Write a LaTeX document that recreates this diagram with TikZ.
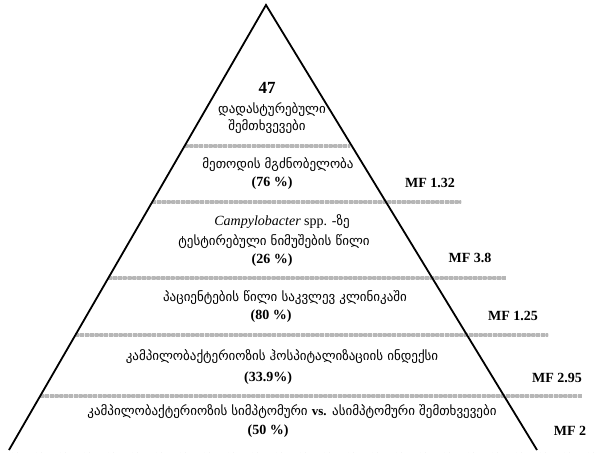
\documentclass[tikz,border=0pt]{standalone}
\usepackage{fontspec}
\setmainfont{Liberation Serif}
\newfontfamily\geofont{DejaVu Sans}
\usetikzlibrary{calc}

\tikzset{
  geo/.style={font=\geofont\fontsize{13}{15}\selectfont, inner sep=0pt},
  txt/.style={font=\fontsize{14}{16}\selectfont, inner sep=0pt},
  pct/.style={font=\bfseries\fontsize{14}{16}\selectfont, inner sep=0pt},
  mf/.style={font=\bfseries\fontsize{14}{16}\selectfont, inner sep=0pt},
  dline/.style={double, double distance=1.2pt, line width=0.8pt, draw=black!80,
    dash pattern=on 4pt off 0.8pt}
}

\begin{document}
\begin{tikzpicture}[x=1pt, y=1pt]
      \useasboundingbox (0, 0) rectangle (598, 456);

      \coordinate (apex) at (266, 451);
      \coordinate (baseL) at (9, 6);
      \coordinate (baseR) at (537, 6);

      \draw[dline] ($(apex)!{141/445}!(baseL)$) -- (350, 310);
      \draw[dline] ($(apex)!{197/445}!(baseL)$) -- (461, 254);
      \draw[dline] ($(apex)!{273/445}!(baseL)$) -- (506, 178);
      \draw[dline] ($(apex)!{330/445}!(baseL)$) -- (548, 121);
      \draw[dline] ($(apex)!{391/445}!(baseL)$) -- (582, 60);
      \draw[dline] (8, 3) -- (598, 3);

      \draw[line width=1.8pt, line join=miter] (baseL) -- (apex) -- (baseR);

      \node[pct, font=\bfseries\fontsize{17}{19}\selectfont] (cases) at (267, 368) {47};
      \node[geo] (conf1) at (272, 346) {დადასტურებული};
      \node[geo] (conf2) at (267, 329) {შემთხვევები};
      \node[geo] (sens1) at (278, 291) {მეთოდის მგძნობელობა};
      \node[pct] (sens2) at (272, 273) {(76 \%)};
      \node[txt] (camp1) at (282, 234) {\textit{Campylobacter} spp. -{\geofont\fontsize{13}{15}\selectfont ზე}};
      \node[geo] (camp2) at (274, 214) {ტესტირებული ნიმუშების წილი};
      \node[pct] (camp3) at (272, 196) {(26 \%)};
      \node[geo] (pat1) at (285, 158) {პაციენტების წილი საკვლევ კლინიკაში};
      \node[pct] (pat2) at (271, 140) {(80 \%)};
      \node[geo] (hosp1) at (282, 99) {კამპილობაქტერიოზის ჰოსპიტალიზაციის ინდექსი};
      \node[pct] (hosp2) at (268, 78) {(33.9\%)};
      \node[geo] (sym1) at (292, 44) {კამპილობაქტერიოზის სიმპტომური {\rmfamily\bfseries\fontsize{13}{15}\selectfont vs.} ასიმპტომური შემთხვევები};
      \node[pct] (sym2) at (268, 25) {(50 \%)};

      \node[mf] (mfsens) at (430, 273) {MF 1.32};
      \node[mf] (mfcamp) at (470, 198) {MF 3.8};
      \node[mf] (mfpat) at (513, 140) {MF 1.25};
      \node[mf] (mfhosp) at (557, 78) {MF 2.95};
      \node[mf] (mfsym) at (570, 25) {MF 2};
\end{tikzpicture}
\end{document}
